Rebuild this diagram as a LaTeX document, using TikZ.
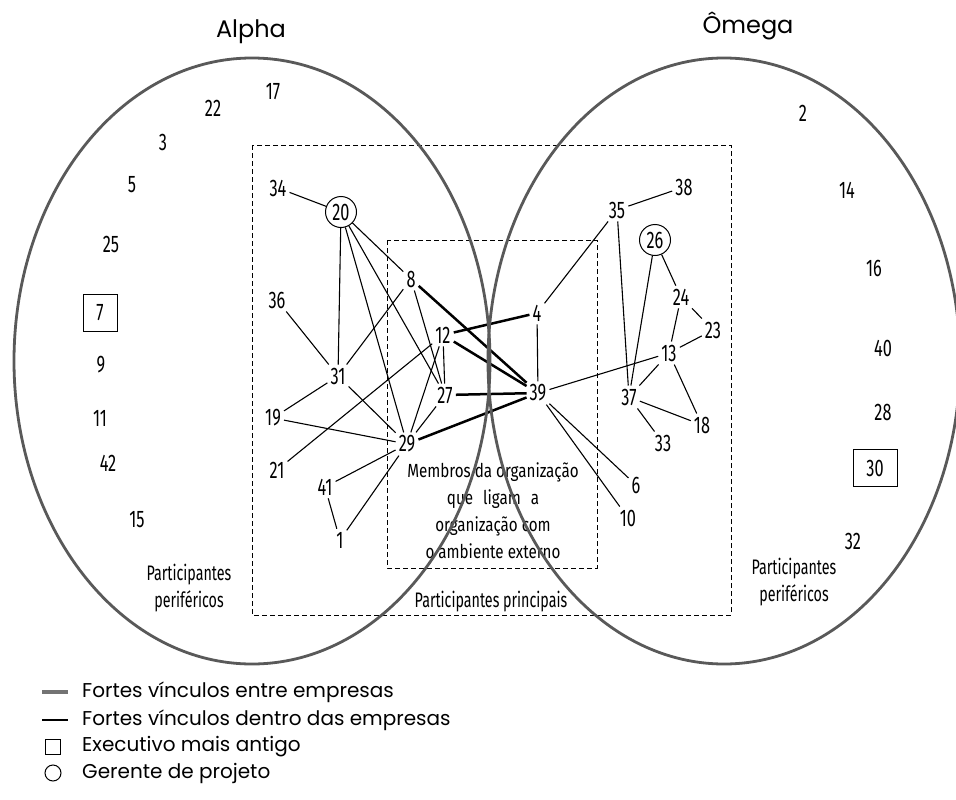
\documentclass[tikz,border=0pt]{standalone}
\usepackage{fontspec}
\setmainfont{Poppins}
\newfontfamily\numfont[FakeStretch=0.68]{Fira Sans}
\newfontfamily\lblfont[FakeStretch=0.68]{Fira Sans}
\newfontfamily\membfont[FakeStretch=0.80]{Fira Sans}
\begin{document}
\begin{tikzpicture}[x=1pt,y=-1pt,
  num/.style={font=\numfont\fontsize{24}{24}\selectfont, inner sep=3pt},
  mgr/.style={num, circle, draw, line width=1pt, minimum size=31pt, inner sep=0pt},
  exec/.style={num, rectangle, draw, line width=1pt, inner sep=0pt},
  lbl/.style={font=\lblfont\fontsize{21}{27}\selectfont, align=center, inner sep=0pt},
  memb/.style={font=\membfont\fontsize{19}{27}\selectfont, align=center, inner sep=0pt},
  title/.style={font=\fontsize{24}{24}\selectfont, inner sep=0pt, anchor=base},
  legtxt/.style={font=\fontsize{20}{22}\selectfont, inner sep=0pt, anchor=west},
  intra/.style={line width=1.1pt, black},
  inter/.style={line width=2.5pt, black},
  zone/.style={dashed, dash pattern=on 5pt off 3pt, line width=1pt, black},
  firm/.style={draw=black!65, line width=2.8pt}]
\clip (0,0) rectangle (956,800);
\fill[white] (0,0) rectangle (956,800);

% titles
\node[title] (alpha) at (251,38) {Alpha};
\node[title] (omega) at (748,34) {Ômega};

% zones
\draw[zone] (252,145) rectangle (731,615);
\draw[zone] (387,240) rectangle (597,568);
\node[lbl] (princ) at (491,602) {Participantes principais};
\node[memb] (membros) at (493,511) {Membros da organização\\que\hspace{10pt}ligam\hspace{10pt}a\\organização com\\o ambiente externo};

% peripheral, Alpha
\node[num] (p17) at (273,92) {17};
\node[num] (p22) at (213,108) {22};
\node[num] (p3) at (163,142) {3};
\node[num] (p5) at (132,185) {5};
\node[num] (p25) at (111,244) {25};
\node[exec, minimum width=34pt, minimum height=37pt] (p7) at (100,313) {7};
\node[num] (p9) at (101,365) {9};
\node[num] (p11) at (100,418) {11};
\node[num] (p42) at (108,463) {42};
\node[num] (p15) at (137,520) {15};
\node[lbl] (perA) at (189,588) {Participantes\\periféricos};

% peripheral, Omega
\node[num] (p2) at (803,113) {2};
\node[num] (p14) at (847,190) {14};
\node[num] (p16) at (874,268) {16};
\node[num] (p40) at (883,348) {40};
\node[num] (p28) at (883,412) {28};
\node[exec, minimum width=44pt, minimum height=37pt] (p30) at (875,468) {30};
\node[num] (p32) at (853,541) {32};
\node[lbl] (perO) at (794,582) {Participantes\\periféricos};

% core, Alpha
\node[num] (n34) at (278,188) {34};
\node[mgr] (n20) at (341,212) {20};
\node[num] (n36) at (277,300) {36};
\node[num] (n8) at (411,279) {8};
\node[num] (n12) at (443,335) {12};
\node[num] (n31) at (338,376) {31};
\node[num] (n27) at (445,395) {27};
\node[num] (n19) at (273,418) {19};
\node[num] (n29) at (407,444) {29};
\node[num] (n21) at (277,470) {21};
\node[num] (n41) at (325,487) {41};
\node[num] (n1) at (340,540) {1};

% core, Omega
\node[num] (n35) at (617,210) {35};
\node[num] (n38) at (684,187) {38};
\node[mgr] (n26) at (655,240) {26};
\node[num] (n4) at (537,313) {4};
\node[num] (n24) at (681,297) {24};
\node[num] (n23) at (713,330) {23};
\node[num] (n13) at (669,353) {13};
\node[num] (n39) at (538,393) {39};
\node[num] (n37) at (629,397) {37};
\node[num] (n18) at (702,425) {18};
\node[num] (n33) at (663,443) {33};
\node[num] (n6) at (636,485) {6};
\node[num] (n10) at (628,518) {10};

% links within Alpha
\draw[intra] (n34) -- (n20);
\draw[intra] (n20) -- (n31);
\draw[intra] (n20) -- (n29);
\draw[intra] (n20) -- (n27);
\draw[intra] (n20) -- (n8);
\draw[intra] (n36) -- (n31);
\draw[intra] (n8) -- (n31);
\draw[intra] (n8) -- (n27);
\draw[intra] (n12) -- (n27);
\draw[intra] (n12) -- (n21);
\draw[intra] (n12) -- (n29);
\draw[intra] (n31) -- (n19);
\draw[intra] (n31) -- (n29);
\draw[intra] (n19) -- (n29);
\draw[intra] (n27) -- (n29);
\draw[intra] (n41) -- (n29);
\draw[intra] (n1) -- (n29);
\draw[intra] (n41) -- (n1);

% links within Omega
\draw[intra] (n35) -- (n38);
\draw[intra] (n35) -- (n4);
\draw[intra] (n4) -- (n39);
\draw[intra] (n35) -- (n37);
\draw[intra] (n26) -- (n37);
\draw[intra] (n26) -- (n24);
\draw[intra] (n24) -- (n23);
\draw[intra] (n24) -- (n13);
\draw[intra] (n23) -- (n13);
\draw[intra] (n13) -- (n39);
\draw[intra] (n13) -- (n37);
\draw[intra] (n13) -- (n18);
\draw[intra] (n37) -- (n18);
\draw[intra] (n37) -- (n33);
\draw[intra] (n39) -- (n6);
\draw[intra] (n39) -- (n10);

% links between the firms
\draw[inter] (n8) -- (n39);
\draw[inter] (n12) -- (n4);
\draw[inter] (n12) -- (n39);
\draw[inter] (n27) -- (n39);
\draw[inter] (n29) -- (n39);

% the two firms
\draw[firm] (252,361) ellipse [x radius=238pt, y radius=303pt];
\draw[firm] (724,361) ellipse [x radius=236pt, y radius=303pt];

% legend
\coordinate (la1) at (42,692); \coordinate (lb1) at (68,692);
\draw[line width=4pt, black!55] (la1) -- (lb1);
\node[legtxt] (lt1) at (82,692) {Fortes vínculos entre empresas};
\coordinate (la2) at (42,720); \coordinate (lb2) at (68,720);
\draw[intra] (la2) -- (lb2);
\node[legtxt] (lt2) at (82,720) {Fortes vínculos dentro das empresas};
\node[draw, line width=1pt, minimum size=15pt, inner sep=0pt] (lsq) at (53,747) {};
\node[legtxt] (lt3) at (82,747) {Executivo mais antigo};
\node[draw, circle, line width=1pt, minimum size=16pt, inner sep=0pt] (lci) at (53,773) {};
\node[legtxt] (lt4) at (82,773) {Gerente de projeto};
\end{tikzpicture}
\end{document}
